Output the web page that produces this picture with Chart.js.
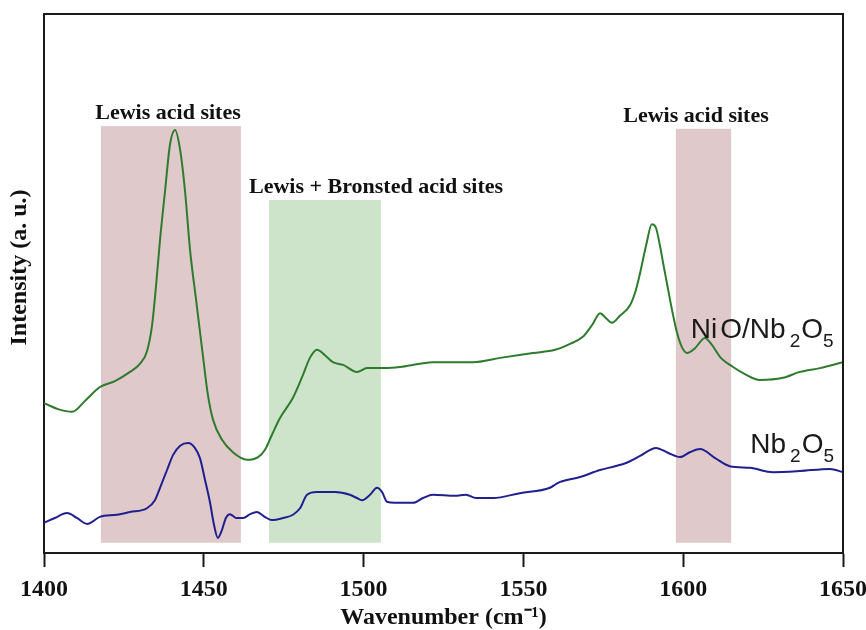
<!DOCTYPE html>
<html>
<head>
<meta charset="utf-8">
<script src="https://cdn.jsdelivr.net/npm/chart.js@4.4.1/dist/chart.umd.min.js"></script>
<style>
  body { margin: 0; background: #fff; }
</style>
</head>
<body>
<canvas id="irChart" width="866" height="630"></canvas>
<script>
// NiO/Nb2O5 spectrum (wavenumber, intensity a.u.)
const nioWave = [1400.0, 1404.4, 1408.8, 1413.1, 1417.5, 1422.2, 1426.9, 1430.0, 1432.2, 1433.8,
    1435.0, 1436.3, 1437.9, 1439.4, 1441.0, 1442.6, 1444.1, 1445.7, 1447.6, 1449.7,
    1451.3, 1452.9, 1455.7, 1459.1, 1463.5, 1467.0, 1469.1, 1471.3, 1473.8, 1477.9,
    1481.0, 1483.2, 1485.4, 1487.9, 1490.4, 1493.6, 1497.9, 1501.1, 1506.7, 1511.4,
    1517.6, 1521.7, 1528.6, 1534.2, 1542.7, 1553.0, 1559.9, 1564.6, 1568.6, 1571.5,
    1574.0, 1575.8, 1577.7, 1580.2, 1583.4, 1585.2, 1586.5, 1588.4, 1590.2, 1591.5,
    1592.7, 1594.0, 1594.9, 1596.5, 1598.1, 1599.6, 1601.2, 1603.7, 1606.8, 1609.0,
    1611.5, 1615.6, 1619.3, 1624.0, 1631.2, 1636.5, 1642.8, 1650.0];
const nioVal = [27.8, 26.7, 26.2, 28.4, 30.8, 31.9, 33.6, 35.1, 37.4, 42.2,
    49.2, 58.1, 67.3, 75.7, 78.5, 74.8, 67.3, 56.2, 46.9, 36.7,
    29.3, 24.7, 21.0, 18.7, 17.3, 17.8, 19.1, 21.9, 25.0, 28.8,
    33.0, 36.2, 37.7, 36.7, 35.4, 34.9, 33.6, 34.3, 34.3, 34.5,
    35.1, 35.4, 35.4, 35.4, 36.2, 37.1, 37.7, 38.8, 40.1, 42.3,
    44.5, 43.6, 42.7, 44.0, 46.0, 48.8, 51.9, 57.1, 61.0, 60.3,
    57.1, 52.9, 50.1, 45.1, 40.8, 38.2, 37.1, 38.0, 39.9, 38.6,
    36.4, 34.5, 33.2, 32.1, 32.5, 33.6, 34.3, 35.4];

// Nb2O5 spectrum
const nbWave = [1400.0, 1403.4, 1407.2, 1410.3, 1413.5, 1417.5, 1422.8, 1426.9, 1432.2, 1434.7,
    1436.3, 1438.5, 1440.4, 1442.6, 1445.1, 1447.2, 1448.8, 1450.4, 1451.9, 1453.2,
    1454.4, 1455.7, 1456.9, 1458.2, 1460.1, 1462.3, 1464.5, 1466.6, 1469.1, 1471.3,
    1474.8, 1477.9, 1480.1, 1482.3, 1485.4, 1491.1, 1495.7, 1497.9, 1499.5, 1502.0,
    1504.2, 1505.8, 1507.3, 1509.8, 1513.0, 1515.5, 1518.6, 1521.7, 1528.6, 1532.0,
    1535.2, 1540.5, 1548.9, 1558.3, 1560.2, 1561.5, 1567.7, 1574.0, 1578.7, 1582.1,
    1586.5, 1591.5, 1595.2, 1599.0, 1602.1, 1605.3, 1610.0, 1614.6, 1620.9, 1628.1,
    1636.5, 1645.9, 1650.0];
const nbVal = [5.6, 6.5, 7.4, 6.5, 5.4, 6.7, 7.1, 7.6, 8.3, 9.8,
    12.1, 15.4, 18.2, 19.9, 20.4, 19.5, 17.6, 13.5, 9.5, 5.2,
    2.8, 4.3, 6.5, 7.2, 6.5, 6.5, 7.2, 7.6, 6.7, 6.1,
    6.5, 7.1, 8.3, 10.8, 11.3, 11.3, 10.8, 10.2, 9.8, 10.8,
    12.1, 11.3, 9.5, 9.3, 9.3, 9.3, 10.2, 10.8, 10.6, 10.8,
    10.2, 10.2, 11.1, 12.1, 12.8, 13.2, 14.1, 15.4, 16.1, 16.7,
    18.0, 19.5, 18.6, 17.8, 18.7, 19.3, 17.6, 16.1, 15.8, 15.0,
    15.2, 15.6, 15.0];

// shaded acid-site regions
const bandStart = [1417.8, 1470.4, 1597.7];
const bandEnd = [1461.6, 1505.4, 1615.0];
const bandTop = [79.2, 65.5, 78.7];
const bandBottom = 1.9;
const bandLabels = ['Lewis acid sites', 'Lewis + Bronsted acid sites', 'Lewis acid sites'];
const bandLabelAt = [1438.8, 1503.9, 1604.0];

const xTicks = [1400, 1450, 1500, 1550, 1600, 1650];

const bandColors = ['#e0c9ca', '#cde4ca', '#e0c9ca'];
const serif = '"Liberation Serif", "Times New Roman", serif';
const sans = '"Liberation Sans", Arial, sans-serif';

function toPoints(xs, ys) {
    return xs.map(function(v, i) { return {x: v, y: ys[i]}; });
}

// draws the shaded bands and their captions under the spectra
const bandsPlugin = {
    id: 'bands',
    beforeDatasetsDraw(chart) {
        const {ctx, scales: {x, y}} = chart;
        ctx.save();
        for (let i = 0; i < bandStart.length; i++) {
            const x0 = x.getPixelForValue(bandStart[i]);
            const x1 = x.getPixelForValue(bandEnd[i]);
            const y0 = y.getPixelForValue(bandTop[i]);
            const y1 = y.getPixelForValue(bandBottom);
            ctx.fillStyle = bandColors[i];
            ctx.fillRect(x0, y0, x1 - x0, y1 - y0);
            ctx.fillStyle = '#111';
            ctx.font = 'bold 22px ' + serif;
            ctx.textAlign = 'center';
            ctx.textBaseline = 'alphabetic';
            ctx.fillText(bandLabels[i], x.getPixelForValue(bandLabelAt[i]), y0 - 7);
        }
        ctx.restore();
    }
};

// chemical formula with subscripts
function drawFormula(ctx, parts, px, py) {
    let cx = px;
    parts.forEach(function(p) {
        ctx.font = (p.sub ? '19px ' : '28px ') + sans;
        ctx.fillText(p.t, cx, py + (p.sub ? 9 : 0));
        cx += ctx.measureText(p.t).width + (p.gap || 0);
    });
}

const framePlugin = {
    id: 'frame',
    afterDraw(chart) {
        const {ctx, chartArea: a, scales: {x, y}} = chart;
        ctx.save();
        ctx.strokeStyle = '#1a1a1a';
        ctx.lineWidth = 2;
        ctx.beginPath();
        ctx.moveTo(a.left, a.top);
        ctx.lineTo(a.right, a.top);
        ctx.lineTo(a.right, a.bottom);
        ctx.stroke();

        // y title
        ctx.fillStyle = '#111';
        ctx.font = 'bold 24px ' + serif;
        ctx.textAlign = 'center';
        ctx.textBaseline = 'middle';
        ctx.translate(20, (a.top + a.bottom) / 2 - 16);
        ctx.rotate(-Math.PI / 2);
        ctx.fillText('Intensity (a. u.)', 0, 0);
        ctx.restore();

        // series names
        ctx.save();
        ctx.fillStyle = '#1a1a1a';
        ctx.textAlign = 'left';
        ctx.textBaseline = 'alphabetic';
        drawFormula(ctx, [{t: 'Ni', gap: 3}, {t: 'O/Nb', gap: 4}, {t: '2', sub: true, gap: 1}, {t: 'O'}, {t: '5', sub: true}],
            x.getPixelForValue(1602.4), y.getPixelForValue(39.9));
        drawFormula(ctx, [{t: 'Nb', gap: 4}, {t: '2', sub: true, gap: 1}, {t: 'O'}, {t: '5', sub: true}],
            x.getPixelForValue(1621.0), y.getPixelForValue(18.6));
        ctx.restore();
    }
};

new Chart(document.getElementById('irChart'), {
    type: 'line',
    data: {
        datasets: [{
            label: 'NiO/Nb2O5',
            data: toPoints(nioWave, nioVal),
            borderColor: '#2e7b2e',
            borderWidth: 2,
            pointRadius: 0,
            cubicInterpolationMode: 'monotone',
            fill: false
        }, {
            label: 'Nb2O5',
            data: toPoints(nbWave, nbVal),
            borderColor: '#1f1f8f',
            borderWidth: 2,
            pointRadius: 0,
            cubicInterpolationMode: 'monotone',
            fill: false
        }]
    },
    options: {
        responsive: false,
        animation: false,
        devicePixelRatio: 1,
        layout: { padding: { top: 14, right: 23, left: 0, bottom: 0 } },
        plugins: {
            legend: { display: false },
            tooltip: { enabled: false }
        },
        scales: {
            x: {
                type: 'linear',
                min: 1400,
                max: 1650,
                afterBuildTicks: function(scale) {
                    scale.ticks = xTicks.map(function(v) { return {value: v}; });
                },
                afterFit: function(scale) {
                    scale.height = 77;
                    scale.paddingLeft = 0;
                    scale.paddingRight = 0;
                },
                grid: {
                    drawOnChartArea: false,
                    drawTicks: true,
                    tickLength: 14,
                    tickWidth: 2,
                    tickColor: '#1a1a1a'
                },
                border: { color: '#1a1a1a', width: 2 },
                ticks: {
                    padding: 8,
                    maxRotation: 0,
                    color: '#111',
                    font: { family: serif, size: 24, weight: 'bold' },
                    callback: function(value) {
                        return String(value);
                    }
                },
                title: {
                    display: true,
                    text: 'Wavenumber (cm⁻¹)',
                    color: '#111',
                    padding: 0,
                    font: { family: serif, size: 24, weight: 'bold', lineHeight: 1 }
                }
            },
            y: {
                min: 0,
                max: 100,
                afterFit: function(scale) {
                    scale.width = 44;
                },
                grid: { display: false },
                border: { color: '#1a1a1a', width: 2 },
                ticks: { display: false }
            }
        }
    },
    plugins: [bandsPlugin, framePlugin]
});
</script>
</body>
</html>
